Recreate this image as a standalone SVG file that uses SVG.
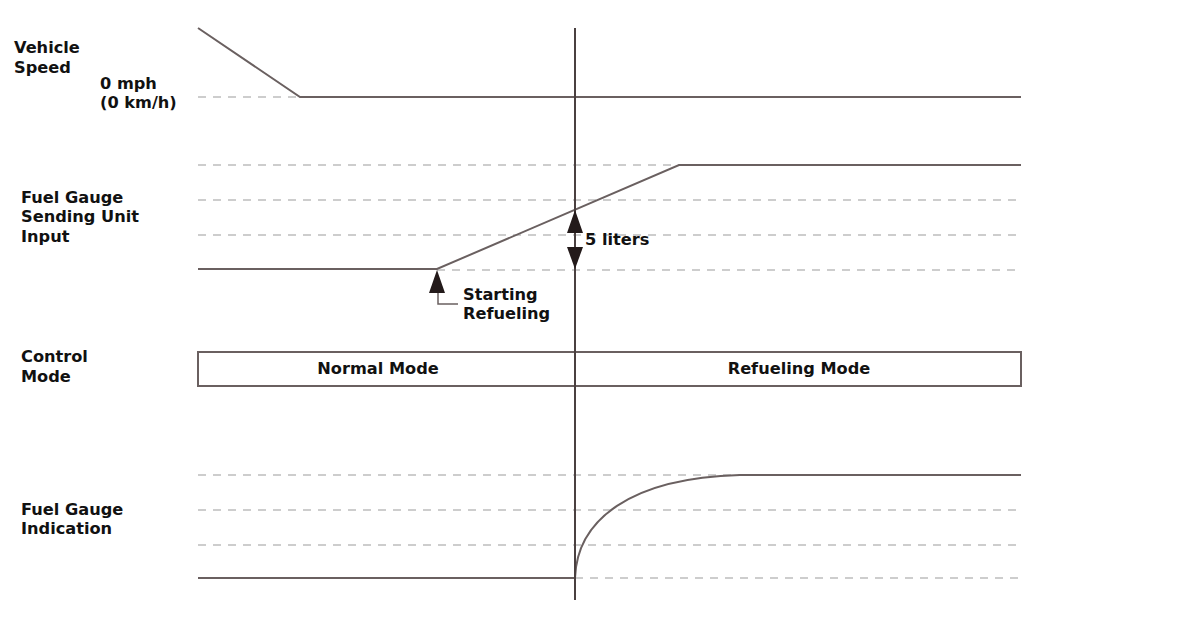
<svg xmlns="http://www.w3.org/2000/svg" width="1199" height="621" viewBox="0 0 1199 621">
<style>
.lbl{font-family:"DejaVu Sans","Liberation Sans",Arial,sans-serif;font-weight:bold;font-size:16.2px;fill:#111}
.dash{stroke:#bdbdbd;stroke-width:1.5;stroke-dasharray:8 7;fill:none}
.sig{stroke:#6a6060;stroke-width:2;fill:none}
.arr{fill:#231a1a}
</style>
<rect width="1199" height="621" fill="#fff"/>
<g id="labels">
<text class="lbl" x="14" y="53">Vehicle</text>
<text class="lbl" x="14" y="73">Speed</text>
<text class="lbl" x="100" y="89">0 mph</text>
<text class="lbl" x="100" y="108">(0 km/h)</text>
<text class="lbl" x="21" y="203">Fuel Gauge</text>
<text class="lbl" x="21" y="222">Sending Unit</text>
<text class="lbl" x="21" y="242">Input</text>
<text class="lbl" x="21" y="362">Control</text>
<text class="lbl" x="21" y="382">Mode</text>
<text class="lbl" x="21" y="515">Fuel Gauge</text>
<text class="lbl" x="21" y="534">Indication</text>
</g>
<g id="gridlines">
<line class="dash" x1="198" y1="97" x2="300" y2="97"/>
<line class="dash" x1="198" y1="165" x2="1021" y2="165"/>
<line class="dash" x1="198" y1="200" x2="1021" y2="200"/>
<line class="dash" x1="198" y1="235" x2="1021" y2="235"/>
<line class="dash" x1="437" y1="270" x2="1021" y2="270"/>
<line class="dash" x1="198" y1="475" x2="1021" y2="475"/>
<line class="dash" x1="198" y1="510" x2="1021" y2="510"/>
<line class="dash" x1="198" y1="545" x2="1021" y2="545"/>
<line class="dash" x1="575" y1="578" x2="1021" y2="578"/>
</g>
<g id="vehicle-speed">
<polyline class="sig" points="198,28 300,97 1021,97"/>
</g>
<g id="sending-unit">
<polyline class="sig" points="198,269 437,269 679,165 1021,165"/>
</g>
<g id="control-mode">
<rect x="198" y="352" width="823" height="34" fill="#fff" stroke="#6a6060" stroke-width="2"/>
<text class="lbl" x="378" y="374" text-anchor="middle">Normal Mode</text>
<text class="lbl" x="799" y="374" text-anchor="middle">Refueling Mode</text>
</g>
<g id="gauge-indication">
<line class="sig" x1="198" y1="578" x2="575" y2="578"/>
<path class="sig" d="M575,578 C577,520 630,478 740,475 L1021,475"/>
</g>
<g id="time-marker">
<line x1="575" y1="28" x2="575" y2="600" stroke="#4a4040" stroke-width="2"/>
</g>
<g id="five-liters">
<polygon class="arr" points="575,210 583,233 567,233"/>
<polygon class="arr" points="567,247 583,247 575,269"/>
<text class="lbl" x="585" y="245">5 liters</text>
</g>
<g id="starting-refueling">
<polygon class="arr" points="437,270 445,293 429,293"/>
<polyline points="438,293 438,304 458,304" fill="none" stroke="#6a6060" stroke-width="1.5"/>
<text class="lbl" x="463" y="300">Starting</text>
<text class="lbl" x="463" y="319">Refueling</text>
</g>
</svg>
